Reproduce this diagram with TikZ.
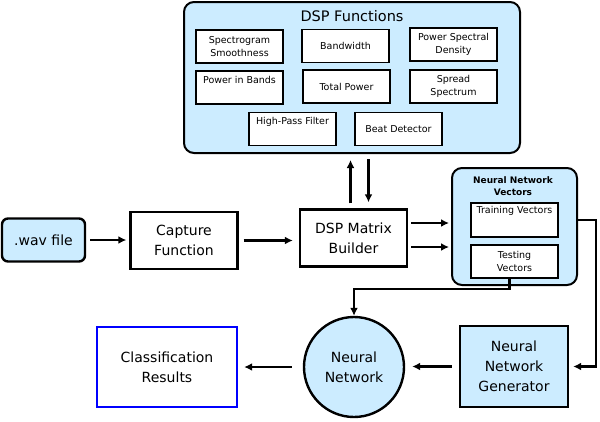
\documentclass[tikz,border=0pt]{standalone}
\usepackage{fontspec}
\setmainfont{DejaVu Sans}
\usetikzlibrary{arrows.meta}
\definecolor{panelblue}{RGB}{204,236,255}

\begin{document}
\begin{tikzpicture}[>={Latex[length=8pt, width=8pt]}, x=1pt, y=-1pt,
    mainbox/.style={draw, line width=2.4pt, minimum width=107pt, minimum height=57pt, align=center, font=\fontsize{14}{20}\selectfont},
    funcbox/.style={draw, fill=white, line width=1.4pt, minimum width=87pt, minimum height=33pt, align=center, font=\fontsize{9.5}{13}\selectfont},
    panel/.style={draw, rounded corners=10pt, fill=panelblue, line width=2pt},
    flow/.style={->, line width=2.2pt}]
            \useasboundingbox (0, 0) rectangle (600, 421);
            \node[panel, minimum width=336pt, minimum height=151pt] (dspf) at (352, 77.5) {};
            \node[font=\fontsize{14.5}{17}\selectfont] (dspt) at (352, 16) {DSP Functions};
            \node[funcbox] (sgs) at (239.5, 46.5) {Spectrogram\\Smoothness};
            \node[funcbox] (bw) at (345.5, 46) {Bandwidth};
            \node[funcbox] (psd) at (453.5, 44.5) {Power Spectral\\Density};
            \node[funcbox] (pib) at (239.5, 87.5) {Power in Bands\\[3pt]};
            \node[funcbox] (tp) at (346.5, 86.5) {Total Power};
            \node[funcbox] (ss) at (453.5, 86.5) {Spread\\Spectrum};
            \node[funcbox] (hpf) at (292.5, 129) {High-Pass Filter\\[3pt]};
            \node[funcbox] (bd) at (398.5, 129) {Beat Detector};
            \node[mainbox, rounded corners=6pt, fill=panelblue, minimum width=83pt, minimum height=43pt] (wav) at (43.5, 240) {.wav file};
            \node[mainbox] (cap) at (184, 240.5) {Capture\\Function};
            \node[mainbox] (dspm) at (353.5, 238) {DSP Matrix\\Builder};
            \node[panel, minimum width=125pt, minimum height=117pt] (nnv) at (514.5, 226.5) {};
            \node[font=\bfseries\fontsize{9}{12.5}\selectfont, align=center] (nnvt) at (513, 186) {Neural Network\\Vectors};
            \node[funcbox, minimum height=34pt, label={[anchor=north, font=\fontsize{9.5}{13}\selectfont]north:Training Vectors}] (trv) at (514.5, 220) {};
            \node[funcbox] (tsv) at (514.5, 261.5) {Testing\\Vectors};
            \node[mainbox, draw=blue, minimum width=140pt, minimum height=80pt] (cls) at (167, 367) {Classification\\Results};
            \node[mainbox, circle, fill=panelblue, minimum size=100pt] (nn) at (354, 367) {Neural\\Network};
            \node[mainbox, fill=panelblue, minimum width=108pt, minimum height=81pt] (gen) at (514, 366.5) {Neural\\Network\\Generator};
            \draw[flow, shorten <=4pt, shorten >=3pt] (wav.east) -- (wav.east -| cap.west);
            \draw[flow, shorten <=5pt, shorten >=6pt] (cap.east) -- (cap.east -| dspm.west);
            \draw[flow, shorten <=3pt, shorten >=2pt] ([yshift=15pt]dspm.east) -- ([yshift=15pt]dspm.east -| nnv.west);
            \draw[flow, shorten <=3pt, shorten >=2pt] ([yshift=-9pt]dspm.east) -- ([yshift=-9pt]dspm.east -| nnv.west);
            \draw[flow, shorten <=5pt, shorten >=6pt] ([xshift=-3pt]dspm.north) -- ([xshift=-3pt]dspm.north |- dspf.south);
            \draw[flow, shorten <=5pt, shorten >=6pt] ([xshift=15pt]dspm.north |- dspf.south) -- ([xshift=15pt]dspm.north);
            \draw[flow] ([xshift=-5pt]tsv.south) -- ++(0, 10) -| (nn.north);
            \draw[flow, shorten >=4pt] (trv.east -| nnv.east) -- ++(18, 0) |- (gen.east);
            \draw[flow, shorten <=7pt, shorten >=7pt] (gen.west) -- (gen.west -| nn.east);
            \draw[flow, shorten <=11pt, shorten >=6pt] (nn.west) -- (nn.west -| cls.east);
        \end{tikzpicture}
\end{document}
